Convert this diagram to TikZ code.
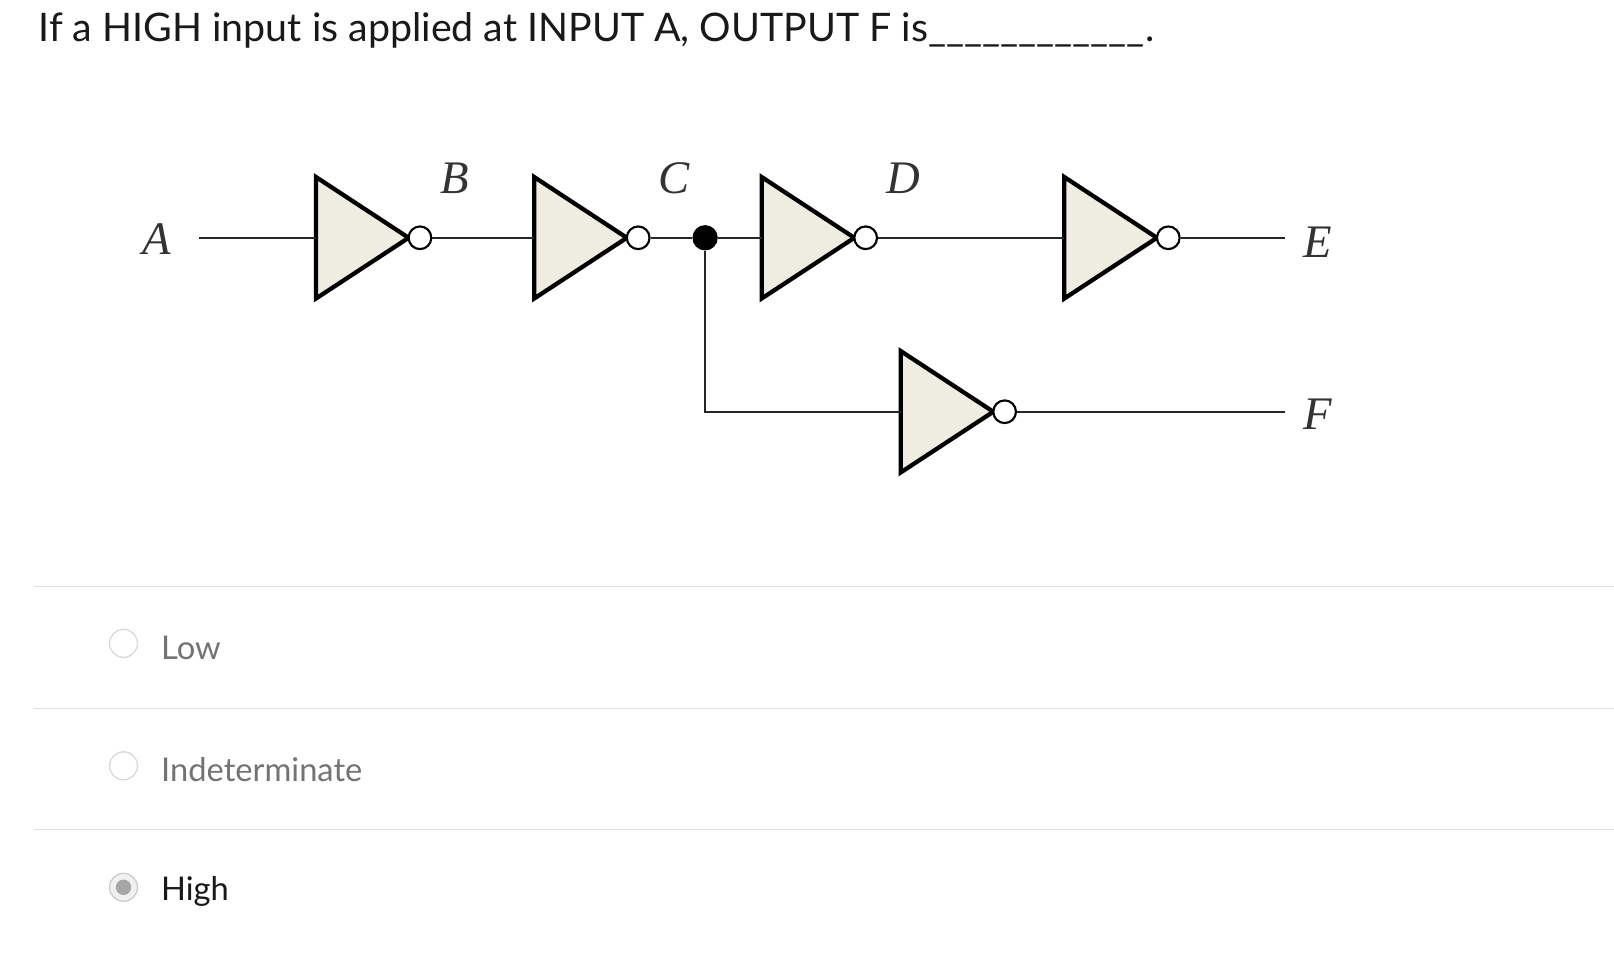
\documentclass[tikz,border=0pt]{standalone}
\usepackage{fontspec}
\setmainfont{Lato}
\newfontfamily\lblfont{Liberation Serif}
\begin{document}
\begin{tikzpicture}[x=0.772pt,y=-0.772pt,
  gate/.style={draw=black,fill=gatefill,line width=3.2pt,line join=miter},
  bub/.style={circle,draw=black,fill=white,line width=1.6pt,minimum size=17pt,inner sep=0pt},
  wire/.style={line width=1.7pt,draw=black!85},
  lbl/.style={font=\lblfont\itshape\fontsize{35}{38}\selectfont,text=black!80},
  ans/.style={anchor=west,font=\fontsize{24.5}{28}\selectfont,text=black!55},
  radio/.style={circle,draw=black!15,line width=1pt,minimum size=21pt,inner sep=0pt},
  sep/.style={draw=black!12,line width=1pt}]
\definecolor{gatefill}{HTML}{EFECE1}
\useasboundingbox (0,0) rectangle (1568,944);
\node[anchor=base west,font=\fontsize{29.5}{34}\selectfont,text=black!90] (q) at (33,40) {If a HIGH input is applied at INPUT A, OUTPUT F is\_\_\_\_\_\_\_\_\_\_\_\_.};
% gates
\foreach \n/\x/\y in {g1/307/231,g2/519/231,g3/740/231,g4/1034/231,g5/875/400}{
  \draw[gate] (\x,\y-59) -- (\x+90,\y) -- (\x,\y+59) -- cycle;
  \coordinate (\n-in) at (\x,\y);
  \node[bub] (\n-b) at (\x+101,\y) {};
}
\coordinate (ain) at (193,231);
\coordinate (eout) at (1248,231);
\coordinate (fout) at (1248,400);
\coordinate (corner) at (685,400);
\node[circle,fill=black,minimum size=19pt,inner sep=0pt] (dot) at (685,231) {};
\draw[wire] (ain) -- (g1-in);
\draw[wire] (g1-b) -- (g2-in);
\draw[wire] (g2-b) -- (dot) -- (g3-in);
\draw[wire] (g3-b) -- (g4-in);
\draw[wire] (g4-b) -- (eout);
\draw[wire] (dot) -- (corner) -- (g5-in);
\draw[wire] (g5-b) -- (fout);
\node[lbl] (la) at (152,232) {A};
\node[lbl] (lb) at (442,173) {B};
\node[lbl] (lc) at (655,173) {C};
\node[lbl] (ld) at (878,173) {D};
\node[lbl] (le) at (1280,235) {E};
\node[lbl] (lf) at (1280,402) {F};
% answers
\draw[sep] (33,570) -- (1568,570);
\draw[sep] (33,688) -- (1568,688);
\draw[sep] (33,806) -- (1568,806);
\node[radio] (r1) at (120,625) {};
\node[radio] (r2) at (120,744) {};
\node[radio,draw=black!20,fill=black!6] (r3) at (120,862) {};
\fill[black!35] (r3) circle (7.5);
\node[ans] (t1) at (152,629) {Low};
\node[ans] (t2) at (152,748) {Indeterminate};
\node[ans,text=black!90] (t3) at (152,866) {High};
\end{tikzpicture}
\end{document}
